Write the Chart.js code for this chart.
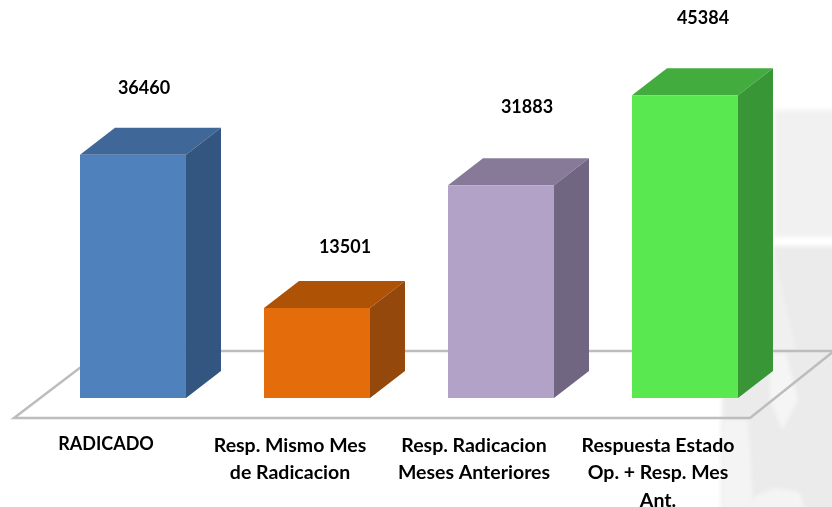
<!DOCTYPE html>
<html>
<head>
<meta charset="utf-8">
<script src="https://cdn.jsdelivr.net/npm/chart.js@4"></script>
<style>
  html, body { margin: 0; padding: 0; background: #fff; }
  canvas { display: block; filter: blur(0.45px); }
</style>
</head>
<body>
<canvas id="myChart" width="832" height="507"></canvas>
<script>
const categories = [
  'RADICADO',
  ['Resp. Mismo Mes', 'de Radicacion'],
  ['Resp. Radicacion', 'Meses Anteriores'],
  ['Respuesta Estado', 'Op. + Resp. Mes', 'Ant.']
];
const values = [36460, 13501, 31883, 45384];
const frontColors = ['#4f81bd', '#e46c0a', '#b3a2c7', '#5ae850'];
const topColors = ['#3f6797', '#ae5305', '#877a98', '#43ac3f'];
const sideColors = ['#335680', '#95480b', '#716682', '#399636'];

// the value labels sit off centre in the original, moved by hand
const labelNudgeX = [11, 28, 26, 18];
const labelNudgeY = [-67, -61, -78, -77];

const depthX = 35;
const depthY = -27;

const fillPoly = (ctx, color, pts) => {
  ctx.fillStyle = color;
  ctx.beginPath();
  pts.forEach((p, i) => i ? ctx.lineTo(p[0], p[1]) : ctx.moveTo(p[0], p[1]));
  ctx.closePath();
  ctx.fill();
};

// grey watermark behind the chart
const drawWatermark = ctx => {
  ctx.save();
  ctx.filter = 'blur(2px)';
  fillPoly(ctx, '#f1f1f1', [[774, 110], [840, 110], [840, 237], [774, 237]]);
  fillPoly(ctx, '#ebebeb', [[773, 246], [840, 246], [840, 515], [722, 515], [722, 352], [773, 352]]);
  // lighter streaks
  fillPoly(ctx, '#f0f0f0', [[772, 262], [776, 262], [796, 350], [772, 350]]);
  fillPoly(ctx, '#f4f4f4', [[722, 420], [748, 420], [754, 515], [722, 515]]);
  fillPoly(ctx, '#f5f5f5', [[770, 353], [786, 353], [798, 400], [782, 430], [770, 400]]);
  fillPoly(ctx, '#f4f4f4', [[745, 515], [755, 496], [775, 488], [800, 492], [806, 515]]);
  ctx.restore();
};

const drawFloor = (ctx, chart) => {
  const base = chart.scales.y.getPixelForValue(0);
  ctx.strokeStyle = '#bdbdbd';
  ctx.lineWidth = 2.5;
  ctx.lineJoin = 'miter';
  ctx.beginPath();
  ctx.moveTo(834, base - 47);
  ctx.lineTo(102, base - 47);
  ctx.lineTo(14, base + 20);
  ctx.lineTo(750, base + 20);
  ctx.lineTo(834, base - 47);
  ctx.stroke();
};

const bars3d = {
  id: 'bars3d',
  beforeDraw(chart) {
    drawWatermark(chart.ctx);
  },
  beforeDatasetsDraw(chart) {
    const ctx = chart.ctx;
    ctx.save();
    drawFloor(ctx, chart);
    chart.getDatasetMeta(0).data.forEach((bar, i) => {
      const left = bar.x - bar.width / 2;
      const right = bar.x + bar.width / 2;
      fillPoly(ctx, topColors[i], [[left, bar.y], [right, bar.y], [right + depthX, bar.y + depthY], [left + depthX, bar.y + depthY]]);
      fillPoly(ctx, sideColors[i], [[right, bar.y], [right + depthX, bar.y + depthY], [right + depthX, bar.base + depthY], [right, bar.base]]);
    });
    ctx.restore();
  },
  afterDatasetsDraw(chart) {
    const ctx = chart.ctx;
    ctx.save();
    ctx.font = 'bold 18px Lato';
    ctx.fillStyle = '#000';
    ctx.textAlign = 'center';
    ctx.textBaseline = 'middle';
    chart.getDatasetMeta(0).data.forEach((bar, i) => {
      ctx.fillText(String(values[i]), bar.x + labelNudgeX[i], bar.y + labelNudgeY[i]);
    });
    ctx.restore();
  }
};

const ctx = document.getElementById('myChart').getContext('2d');
const chart = new Chart(ctx, {
  type: 'bar',
  data: {
    labels: categories,
    datasets: [{
      data: values,
      backgroundColor: frontColors,
      borderWidth: 0,
      barPercentage: 0.576,
      categoryPercentage: 1
    }]
  },
  plugins: [bars3d],
  options: {
    responsive: false,
    animation: false,
    layout: { padding: { left: 41, right: 55, top: 31, bottom: 0 } },
    plugins: { legend: { display: false }, tooltip: { enabled: false } },
    scales: {
      y: { display: false, min: 0, max: 55000 },
      x: {
        grid: { display: false },
        border: { display: false },
        afterFit: scale => { scale.height = 109; },
        ticks: {
          autoSkip: false,
          maxRotation: 0,
          padding: 26,
          labelOffset: -27,
          color: '#000',
          // RADICADO is all caps and runs narrower in Lato than the rest needs
          font: c => ({ family: 'Lato', size: c.index === 0 ? 18 : 19.5, weight: 'bold', lineHeight: 1.4 })
        }
      }
    }
  }
});
</script>
</body>
</html>
